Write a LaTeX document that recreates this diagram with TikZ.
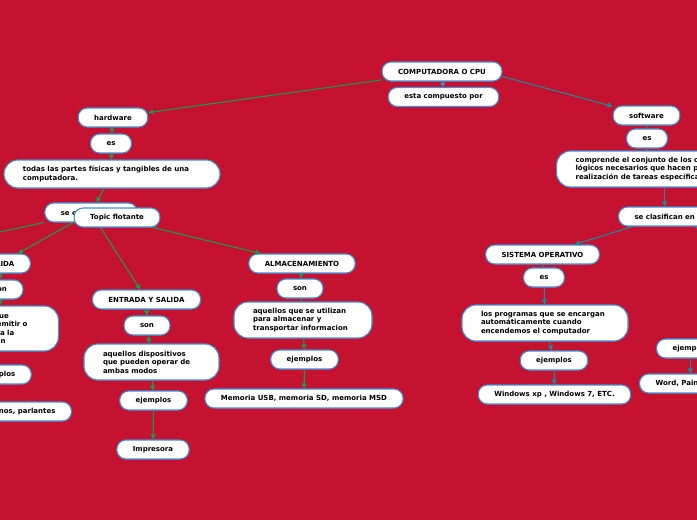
\documentclass[tikz,border=0pt]{standalone}
\usepackage{fontspec}
\setmainfont{DejaVu Sans}
\usetikzlibrary{arrows.meta}
\definecolor{fondo}{RGB}{196,18,48}
\definecolor{borde}{RGB}{62,144,214}
\definecolor{verde}{RGB}{28,152,82}
\definecolor{azulverde}{RGB}{32,136,152}
\tikzset{
  tema/.style={draw=borde, fill=white, line width=1.1pt, rounded corners=9pt, minimum height=19pt,
    inner xsep=16pt, inner ysep=2pt, text=black, font=\fontsize{7}{8.5}\selectfont\bfseries},
  temalargo/.style={tema, rounded corners=14pt, minimum height=36pt, align=left, inner xsep=19pt},
  enlaceh/.style={verde, line width=1.1pt, -{Triangle[length=5pt,width=5pt]}},
  lineah/.style={verde, line width=1.1pt},
  enlaces/.style={azulverde, line width=1.1pt, -{Triangle[length=5pt,width=5pt]}},
  lineas/.style={azulverde, line width=1.1pt},
  enlaceb/.style={borde, line width=1.1pt, -{Triangle[length=4pt,width=5pt]}}
}
\begin{document}
\begin{tikzpicture}[x=1pt,y=-1pt]
  \useasboundingbox (0,0) rectangle (697,520);
  \fill[fondo] (0,0) rectangle (697,520);
  \clip (0,0) rectangle (697,520);
  \node[tema] (cpu) at (442,71.5) {COMPUTADORA O CPU};
  \node[tema] (compuesto) at (443.5,97) {esta compuesto por};
  \node[tema] (hw) at (113,117.5) {hardware};
  \node[tema] (hwes) at (111,143.5) {es};
  \node[temalargo, text width=178pt, minimum height=28pt] (hwdef) at (112,174) {todas las partes físicas y tangibles de una\\computadora.};
  \node[tema] (hwclas) at (91,212.5) {se clasifican en};
  \coordinate (entr) at (-80,249);
  \node[tema] (sal) at (0,263.5) {SALIDA};
  \node[tema] (salson) at (0,289.5) {son};
  \node[temalargo, anchor=east, text width=81pt, minimum height=45pt] (saldef) at (59,328.5) {aquellos que\\permiten emitir o\\respuesta a la\\informacion};
  \node[tema] (salej) at (-2.5,374.5) {ejemplos};
  \node[tema, anchor=east] (salejs) at (72,411.5) {Monitor, audifonos, parlantes};
  \node[tema] (es) at (146.5,299.5) {ENTRADA Y SALIDA};
  \node[tema] (esson) at (147,325.5) {son};
  \node[temalargo, text width=97pt] (esdef) at (151.5,362) {aquellos dispositivos\\que pueden operar de\\ambas modos};
  \node[tema] (esej) at (153.5,400.5) {ejemplos};
  \node[tema] (esejs) at (153,449.5) {Impresora};
  \node[tema] (alm) at (302,263.5) {ALMACENAMIENTO};
  \node[tema] (almson) at (300,288.5) {son};
  \node[temalargo, text width=100pt] (almdef) at (303,320) {aquellos que se utilizan\\para almacenar y\\transportar informacion};
  \node[tema] (almej) at (304.5,359.5) {ejemplos};
  \node[tema] (almejs) at (304,398.5) {Memoria USB, memoria SD, memoria MSD};
  \node[tema] (sw) at (646.5,115.5) {software};
  \node[tema] (swes) at (647,138.5) {es};
  \node[temalargo, anchor=west, text width=190pt] (swdef) at (556,169) {comprende el conjunto de los componentes\\lógicos necesarios que hacen posible la\\realización de tareas específicas};
  \node[tema, anchor=west] (swclas) at (618,216.5) {se clasifican en};
  \coordinate (aplic) at (790,260);
  \node[tema] (so) at (542.5,254.5) {SISTEMA OPERATIVO};
  \node[tema] (soes) at (544,277.5) {es};
  \node[temalargo, text width=128pt] (sodef) at (545,323) {los programas que se encargan\\automáticamente cuando\\encendemos el computador};
  \node[tema] (soej) at (554,360.5) {ejemplos};
  \node[tema] (soejs) at (554.5,394.5) {Windows xp , Windows 7, ETC.};
  \node[tema, anchor=west] (apej) at (656,348.5) {ejemplos};
  \node[tema, anchor=west] (apejs) at (639,383.5) {Word, Paint, Excel};
  \draw[enlaceb] (cpu) -- (compuesto);
  \draw[enlaceh] (cpu) -- (hw);
  \draw[enlaces] ([yshift=-5pt]cpu.east) -- (sw);
  \draw[enlaceh] (hw) -- (hwes);
  \draw[enlaceh] (hwes) -- (hwdef);
  \draw[enlaceh] (hwdef) -- (hwclas);
  \draw[lineah] (hwclas) -- (entr);
  \draw[enlaceh] (hwclas) -- (sal);
  \draw[enlaceh] (hwclas) -- (es);
  \draw[enlaceh] (hwclas) -- (alm);
  \draw[enlaceh] (sal) -- (salson);
  \draw[enlaceh] (salson) -- (salson |- saldef.north);
  \draw[enlaceh] (saldef.south -| salej) -- (salej);
  \draw[enlaceh] (salej) -- (salej |- salejs.north);
  \draw[enlaceh] (es) -- (esson);
  \draw[enlaceh] (esson) -- (esdef);
  \draw[enlaceh] (esdef) -- (esej);
  \draw[enlaceh] (esej) -- (esejs);
  \draw[enlaceh] (alm) -- (almson);
  \draw[lineah] (almson) -- (almdef);
  \draw[enlaceh] (almdef) -- (almej);
  \draw[enlaceh] (almej) -- (almejs);
  \draw[lineas] (sw) -- (swes);
  \draw[lineas] (swes) -- (swes |- swdef.north);
  \draw[enlaces] (swdef.south -| swclas) -- (swclas);
  \draw[enlaces] (swclas) -- (so);
  \draw[lineas] (swclas) -- (aplic);
  \draw[lineas] (so) -- (soes);
  \draw[enlaces] (soes) -- (sodef);
  \draw[enlaces] (sodef) -- (soej);
  \draw[enlaces] (soej) -- (soejs);
  \draw[enlaces] (apej) -- (apej |- apejs.north);
  \node[tema] (flotante) at (117,217.5) {Topic flotante};
\end{tikzpicture}
\end{document}
